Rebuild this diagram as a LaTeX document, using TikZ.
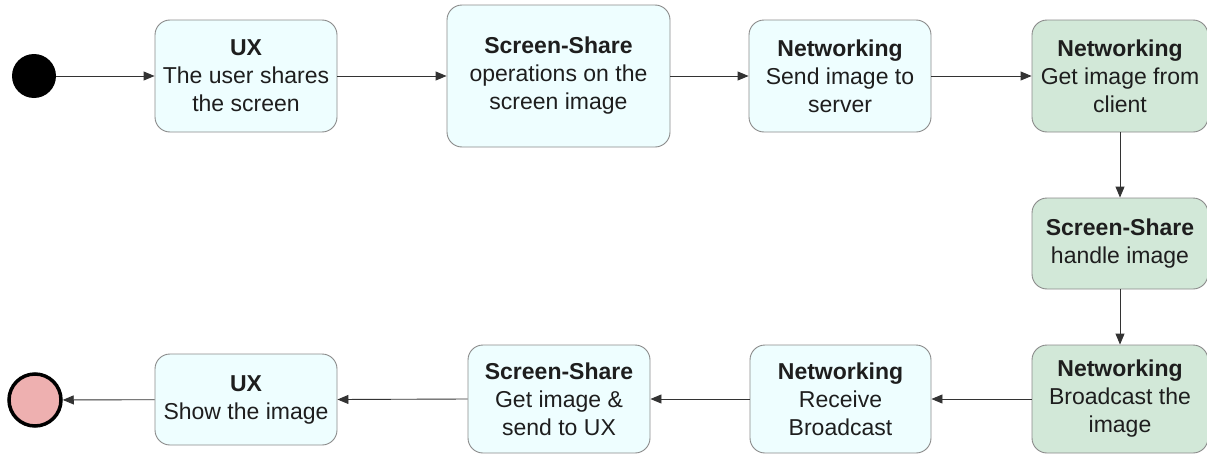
\documentclass[tikz,border=0pt]{standalone}
\usepackage{fontspec}
\setmainfont{Liberation Sans}
\usetikzlibrary{arrows.meta}
\definecolor{cyanfill}{HTML}{EEFEFF}
\definecolor{greenfill}{HTML}{D2E8D8}
\definecolor{pinkfill}{HTML}{EEB0B0}
\definecolor{boxline}{HTML}{8A8A8A}
\definecolor{txt}{HTML}{1E1E1E}
\definecolor{arr}{HTML}{333333}
\tikzset{
  act/.style={draw=boxline, line width=0.9pt, rounded corners=15pt, align=center,
    text=txt, font=\fontsize{23}{28}\selectfont, inner sep=0pt},
  uxbox/.style={act, fill=cyanfill},
  srvbox/.style={act, fill=greenfill},
  flow/.style={draw=arr, line width=0.9pt, -{Triangle[length=11pt,width=9pt]}}
}
\begin{document}
\begin{tikzpicture}[x=1pt,y=-1pt]
\useasboundingbox (0,0) rectangle (1207,455);
\node[circle, fill=black, minimum size=44pt, inner sep=0pt] (start) at (34,76) {};
\node[uxbox, minimum width=182pt, minimum height=112pt] (b1) at (246,76) {\textbf{UX}\\The user shares\\the screen};
\node[uxbox, minimum width=223pt, minimum height=142pt] (b2) at (558.5,76) {\textbf{Screen-Share}\\operations on the\\screen image};
\node[uxbox, minimum width=182pt, minimum height=112pt] (b3) at (840,76) {\textbf{Networking}\\Send image to\\server};
\node[srvbox, minimum width=176pt, minimum height=112pt] (b4) at (1120,76) {\textbf{Networking}\\Get image from\\client};
\node[srvbox, minimum width=176pt, minimum height=91pt] (b5) at (1120,243.5) {\textbf{Screen-Share}\\handle image};
\node[srvbox, minimum width=176pt, minimum height=108pt] (b6) at (1120,399) {\textbf{Networking}\\Broadcast the\\image};
\node[uxbox, minimum width=181pt, minimum height=108pt] (b7) at (840.5,399) {\textbf{Networking}\\Receive\\Broadcast};
\node[uxbox, minimum width=182pt, minimum height=108pt] (b8) at (559,399) {\textbf{Screen-Share}\\Get image \&\\send to UX};
\node[uxbox, minimum width=182pt, minimum height=91pt] (b9) at (246,399.5) {\textbf{UX}\\Show the image};
\node[circle, fill=pinkfill, draw=black, line width=3.5pt, minimum size=52pt, inner sep=0pt] (end) at (35,400) {};
\draw[flow] (start) -- (b1);
\draw[flow] (b1) -- (b2);
\draw[flow] (b2) -- (b3);
\draw[flow] (b3) -- (b4);
\draw[flow] (b4) -- (b5);
\draw[flow] (b5) -- (b6);
\draw[flow] (b6) -- (b7);
\draw[flow] (b7) -- (b8);
\draw[flow] (b8.west) -- (b9.east);
\draw[flow] (b9) -- (end);
\end{tikzpicture}
\end{document}
